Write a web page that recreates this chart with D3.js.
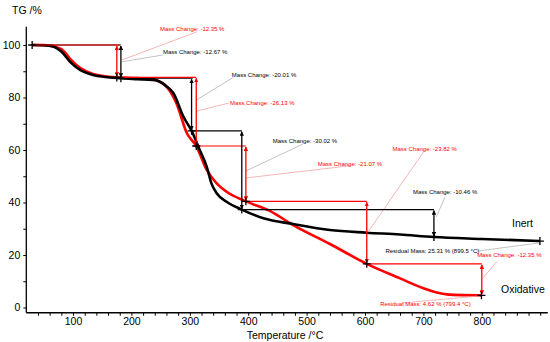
<!DOCTYPE html>
<html>
<head>
<meta charset="utf-8">
<script src="https://cdn.jsdelivr.net/npm/d3@7"></script>
<style>
  body { margin: 0; background: #fff; }
  svg { display: block; font-family: "Liberation Sans", Arial, sans-serif; }
</style>
</head>
<body>
<div id="chart"></div>
<script>
// TG curves
var inertT  = [30, 50, 66, 80, 95, 112, 134, 155, 182, 210, 237, 249, 260, 272, 289, 303, 317, 329, 337, 346, 363, 389, 426, 477, 540, 603, 660, 718, 800, 899.5]
var inertTG = [100, 99.9, 99.4, 97.5, 93.6, 90.5, 88.6, 87.8, 87.33, 87.0, 86.7, 86.0, 84.3, 81.6, 72.7, 67.32, 60, 53.6, 47.3, 43.5, 40.3, 37.30, 34.0, 31.8, 29.5, 28.5, 27.8, 26.84, 26.1, 25.31]

var oxT  = [30, 50, 70, 85, 95, 112, 134, 155, 175, 210, 237, 250, 260, 277, 295, 311, 329, 346, 363, 396, 437, 477, 540, 603, 660, 700, 718, 740, 770, 799.4]
var oxTG = [100, 99.95, 99.3, 97.5, 94.7, 91.3, 89.0, 88.1, 87.65, 87.4, 87.0, 85.8, 84.1, 77.8, 66.4, 61.52, 52.4, 47.3, 44.1, 40.45, 36.8, 31.4, 24.2, 16.63, 11.1, 7.3, 6.0, 5.0, 4.7, 4.62]

var xTicks = d3.range(40, 901, 20)
var xLabels = [100, 200, 300, 400, 500, 600, 700, 800]
var yTicks = d3.range(0, 101, 10)
var yLabels = [0, 20, 40, 60, 80, 100]

// step evaluation: [series, T from, T to, TG]
var stepLines = [
  ['inert', 30, 182, 100], ['inert', 182, 305, 87.33], ['inert', 303, 389, 67.32], ['inert', 389, 718, 37.30],
  ['ox', 30, 180, 100], ['ox', 175, 311, 87.65], ['ox', 306, 396, 61.52], ['ox', 396, 603, 40.45], ['ox', 603, 800, 16.63]
]
// double arrows: [series, T, TG from, TG to]
var stepArrows = [
  ['inert', 182, 100, 87.33], ['inert', 303, 87.33, 67.32], ['inert', 389, 67.32, 37.30], ['inert', 718, 37.30, 26.84],
  ['ox', 175, 100, 87.65], ['ox', 311, 87.65, 61.52], ['ox', 396, 61.52, 40.45], ['ox', 603, 40.45, 16.63], ['ox', 800, 16.63, 4.62]
]
// crosses on the curves: [T, TG]
var stepMarks = [
  [30, 100], [182, 87.33], [303, 67.32], [389, 37.30], [718, 26.84], [899.5, 25.31],
  [175, 87.65], [311, 61.52], [396, 40.45], [603, 16.63], [799.4, 4.62]
]
// labels: [series, text, T, TG]
var stepLabels = [
  ['ox', 'Mass Change: -12.35 %', 249, 105.2],
  ['inert', 'Mass Change: -12.67 %', 254, 96.6],
  ['inert', 'Mass Change: -20.01 %', 372, 87.8],
  ['ox', 'Mass Change: -26.13 %', 369, 77.3],
  ['inert', 'Mass Change: -30.02 %', 442, 62.7],
  ['ox', 'Mass Change: -21.07 %', 519, 53.9],
  ['ox', 'Mass Change: -23.82 %', 647, 59.6],
  ['inert', 'Mass Change: -10.46 %', 682, 43.1],
  ['inert', 'Residual Mass: 25.31 % (899.5 °C)', 635, 20.6],
  ['ox', 'Mass Change: -12.35 %', 792, 19.4],
  ['ox', 'Residual Mass: 4.62 % (799.4 °C)', 626, 0.4]
]
// leader lines: [series, T1, TG1, T2, TG2]
var leaders = [
  ['ox', 184, 94.3, 312, 105.0],
  ['inert', 184, 93.6, 254, 96.2],
  ['inert', 311, 79.0, 374, 87.6],
  ['ox', 311, 74.8, 367, 77.9],
  ['inert', 396, 52.0, 494, 62.3],
  ['ox', 398, 49.4, 574, 54.0],
  ['ox', 605, 28.7, 701, 59.5],
  ['inert', 722, 34.5, 737, 42.1],
  ['inert', 792, 21.5, 899, 24.6],
  ['ox', 802, 11.2, 826, 17.6],
  ['ox', 663, 1.7, 797, 4.4]
]

var width = 550
var height = 342
var colors = { inert: '#000', ox: '#ff0000' }
var leaderColors = { inert: '#b4b4b4', ox: '#f3a3a3' }

var svg = d3.select('#chart').append('svg').attr('width', width).attr('height', height)

var x = d3.scaleLinear().domain([20, 913]).range([26.3, 547.8])
var y = d3.scaleLinear().domain([0, 100]).range([307.5, 45])

var defs = svg.append('defs')
Object.keys(colors).forEach(function(k) {
  defs.append('marker').attr('id', 'arr-' + k)
    .attr('viewBox', '0 0 10 10').attr('refX', 9).attr('refY', 5)
    .attr('markerWidth', 4.5).attr('markerHeight', 4.5)
    .attr('markerUnits', 'userSpaceOnUse')
    .attr('orient', 'auto-start-reverse')
    .append('path').attr('d', 'M0,0 L10,5 L0,10 z').attr('fill', colors[k])
})

// axes
var xAxis = d3.axisBottom(x).tickValues(xTicks).tickSize(3).tickSizeOuter(0)
  .tickFormat(function(d) { return xLabels.indexOf(d) >= 0 ? d : '' })
var gx = svg.append('g').attr('transform', 'translate(0,' + y(-2) + ')').call(xAxis)
gx.select('.domain').attr('d', 'M' + x(20) + ',0H' + x(913))

var yAxis = d3.axisLeft(y).tickValues(yTicks).tickSize(3).tickSizeOuter(0)
  .tickFormat(function(d) { return yLabels.indexOf(d) >= 0 ? d : '' })
var gy = svg.append('g').attr('transform', 'translate(' + x(20) + ',0)').call(yAxis)
gy.select('.domain').attr('d', 'M0,' + y(107) + 'V' + y(-2))

svg.selectAll('.domain').attr('stroke', '#000').attr('stroke-width', 1.3)
svg.selectAll('.tick line').attr('stroke', '#000').attr('stroke-width', 1)
svg.selectAll('.tick text').attr('font-size', 10.5).attr('fill', '#000')
  .attr('font-family', '"Liberation Sans", Arial, sans-serif')
gx.selectAll('.tick text').attr('y', 5)
gy.selectAll('.tick text').attr('x', -6)

svg.append('text').attr('x', 12).attr('y', 14).attr('font-size', 10.5).text('TG /%')
svg.append('text').attr('x', 285).attr('y', 338.5).attr('font-size', 10.5)
  .attr('text-anchor', 'middle').text('Temperature /°C')

// curves
var line = d3.line().x(function(d) { return x(d[0]) }).y(function(d) { return y(d[1]) })
  .curve(d3.curveMonotoneX)

svg.append('path').datum(d3.zip(oxT, oxTG)).attr('d', line)
  .attr('fill', 'none').attr('stroke', colors.ox).attr('stroke-width', 2.6)
svg.append('path').datum(d3.zip(inertT, inertTG)).attr('d', line)
  .attr('fill', 'none').attr('stroke', colors.inert).attr('stroke-width', 2.6)

// leaders
svg.append('g').selectAll('line').data(leaders).enter().append('line')
  .attr('x1', function(d) { return x(d[1]) }).attr('y1', function(d) { return y(d[2]) })
  .attr('x2', function(d) { return x(d[3]) }).attr('y2', function(d) { return y(d[4]) })
  .attr('stroke', function(d) { return leaderColors[d[0]] }).attr('stroke-width', 0.8)

// step lines, black first then red on top
var orderedLines = stepLines.filter(function(d) { return d[0] == 'inert' })
  .concat(stepLines.filter(function(d) { return d[0] == 'ox' }))
svg.append('g').selectAll('line').data(orderedLines).enter().append('line')
  .attr('x1', function(d) { return x(d[1]) }).attr('x2', function(d) { return x(d[2]) })
  .attr('y1', function(d) { return y(d[3]) }).attr('y2', function(d) { return y(d[3]) })
  .attr('stroke', function(d) { return colors[d[0]] }).attr('stroke-width', 1.2)

svg.append('g').selectAll('line').data(stepArrows).enter().append('line')
  .attr('x1', function(d) { return x(d[1]) }).attr('x2', function(d) { return x(d[1]) })
  .attr('y1', function(d) { return y(d[2]) + 1 }).attr('y2', function(d) { return y(d[3]) - 1 })
  .attr('stroke', function(d) { return colors[d[0]] }).attr('stroke-width', 1.3)
  .attr('marker-start', function(d) { return 'url(#arr-' + d[0] + ')' })
  .attr('marker-end', function(d) { return 'url(#arr-' + d[0] + ')' })

svg.append('g').selectAll('path').data(stepMarks).enter().append('path')
  .attr('d', function(d) {
    var px = x(d[0]), py = y(d[1])
    return 'M' + (px - 4) + ',' + py + 'H' + (px + 4) + 'M' + px + ',' + (py - 4) + 'V' + (py + 4)
  })
  .attr('stroke', '#000').attr('stroke-width', 1.3).attr('fill', 'none')

svg.append('g').selectAll('text').data(stepLabels).enter().append('text')
  .attr('x', function(d) { return x(d[2]) }).attr('y', function(d) { return y(d[3]) })
  .attr('font-size', 6).attr('fill', function(d) { return colors[d[0]] })
  .text(function(d) { return d[1] })

svg.append('text').attr('x', 512).attr('y', 227).attr('font-size', 10.5).text('Inert')
svg.append('text').attr('x', 501).attr('y', 293).attr('font-size', 10.5).text('Oxidative')
</script>
</body>
</html>
